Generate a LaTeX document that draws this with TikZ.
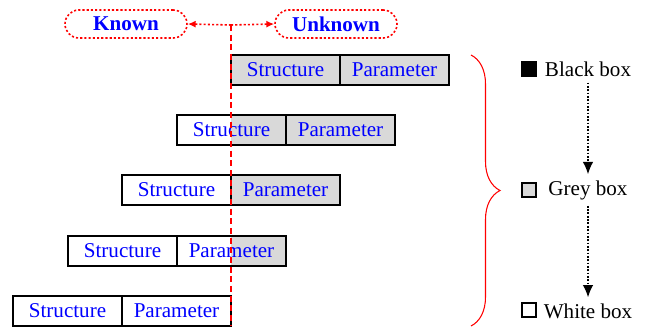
\documentclass[tikz,border=0pt]{standalone}
\usepackage{fontspec}
\setmainfont{Liberation Serif}
\usetikzlibrary{arrows.meta,decorations.pathreplacing}

\begin{document}
\begin{tikzpicture}[x=0.02cm,y=-0.02cm,
    cell/.style={draw,line width=0.8pt,minimum width=2.18cm,minimum height=0.6cm,
        inner sep=0pt,text=blue,font=\fontsize{12}{14}\selectfont},
    tag/.style={draw=red,line width=0.9pt,dash pattern=on 1.2pt off 1.2pt,rounded corners=7.9pt,
        minimum width=2.44cm,minimum height=0.56cm,text=blue,font=\fontsize{12}{14}\selectfont\bfseries},
    key/.style={draw,line width=0.7pt,minimum size=0.28cm,inner sep=0pt},
    keytext/.style={font=\fontsize{12}{14}\selectfont},
    boxgrey/.style={fill=black!15}]
    \useasboundingbox (0,0) rectangle (648,331);

    % grey part of each row (right of the split)
    \foreach \x/\y in {231/70,177/130,122/190,68/251}
        \fill[boxgrey] (231,\y-15) rectangle (\x+218,\y+15);

    % rows of structure/parameter cells
    \foreach \i/\x/\y in {1/231/70,2/177/130,3/122/190,4/68/251,5/13/311}{
        \node[cell] (s\i) at (\x+54.5,\y) {Structure};
        \node[cell] (p\i) at (\x+163.5,\y) {Parameter};
    }

    % known / unknown split
    \coordinate (split) at (231,25);
    \coordinate (bottom) at (231,326);
    \node[tag] (known) at (126,24) {Known};
    \node[tag] (unknown) at (336,24) {Unknown};
    \draw[red,line width=1.6pt,dash pattern=on 3.5pt off 2pt] (split) -- (bottom);
    \draw[red,line width=0.9pt,dash pattern=on 1.2pt off 1.2pt,-{Latex[length=4.5pt,width=4pt]}]
        (split) -- (known.east);
    \draw[red,line width=0.9pt,dash pattern=on 1.2pt off 1.2pt,-{Latex[length=4.5pt,width=4pt]}]
        (split) -- (unknown.west);

    % brace over all rows
    \draw[red,line width=0.6pt,decorate,decoration={brace,amplitude=0.58cm}]
        (471,55) -- (471,326);

    % legend
    \node[key,fill=black] (kblack) at (529,69) {};
    \node[key,fill=black!15] (kgrey) at (529,190) {};
    \node[key,fill=white] (kwhite) at (529,310) {};
    \node[keytext] (tblack) at (588,69) {Black box};
    \node[keytext] (tgrey) at (588,190) {Grey box};
    \node[keytext] (twhite) at (588,311) {White box};

    \draw[line width=0.8pt,dash pattern=on 1pt off 0.9pt,-{Latex[length=7pt,width=6pt]}]
        (tblack.south) -- (tgrey.north);
    \draw[line width=0.8pt,dash pattern=on 1pt off 0.9pt,-{Latex[length=7pt,width=6pt]}]
        (tgrey.south) -- (twhite.north);
\end{tikzpicture}
\end{document}
